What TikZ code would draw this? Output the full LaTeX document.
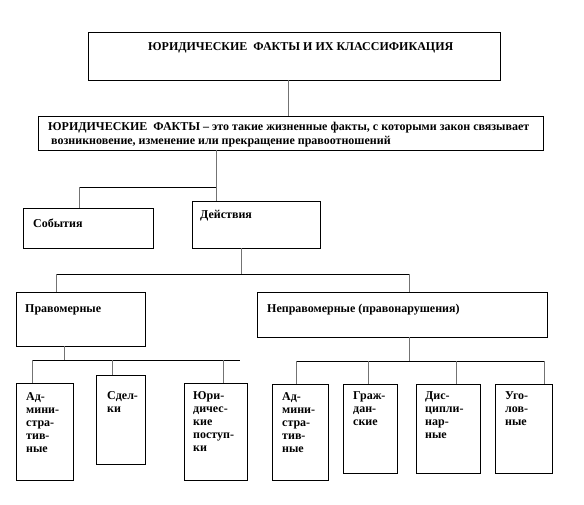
\documentclass[tikz,border=0pt]{standalone}
\usepackage{fontspec}
\setmainfont{Liberation Serif}
\newcommand\mybox[5]{\node[box, minimum width={#4-#2}, minimum height={#5-#3}] (#1) at ({(#2+#4)/2},{(#3+#5)/2}) {};}
\begin{document}
\begin{tikzpicture}[x=1pt,y=-1pt,
 box/.style={draw=black, line width=0.8pt, inner sep=0pt, outer sep=0pt},
 txt/.style={font=\fontsize{12}{13.5}\selectfont\bfseries, inner sep=0pt, anchor=base west},
 mtxt/.style={font=\fontsize{12}{13}\selectfont\bfseries, inner sep=0pt, anchor=north west, align=left},
 vline/.style={draw=black!55, line width=1pt},
 hline/.style={draw=black, line width=0.8pt}]
\useasboundingbox[fill=white] (0,0) rectangle (584,504);
% boxes
\mybox{title}{88}{32}{500}{80}
\mybox{def}{38}{116}{543}{150}
\mybox{sob}{23}{208}{153}{248}
\mybox{act}{192}{201}{320}{248}
\mybox{prav}{16}{292}{145}{346}
\mybox{neprav}{257}{292}{547}{337}
\mybox{aa}{16}{383}{73}{480}
\mybox{sd}{96}{375}{145}{464}
\mybox{yur}{184}{383}{247}{480}
\mybox{ab}{272}{384}{328}{480}
\mybox{gr}{343}{384}{397}{473}
\mybox{dis}{416}{384}{480}{473}
\mybox{ugo}{495}{384}{552}{473}
% texts
\node[txt] (ttitle) at (148,50) {ЮРИДИЧЕСКИЕ\ \ ФАКТЫ И ИХ КЛАССИФИКАЦИЯ};
\node[txt] (tdef1) at (48,130) {ЮРИДИЧЕСКИЕ\ \ ФАКТЫ – это такие\ жизненные факты, с которыми закон связывает};
\node[txt] (tdef2) at (51,144) {возникновение, изменение или прекращение правоотношений};
\node[txt] (tsob) at (33,227) {События};
\node[txt] (tact) at (200,218) {Действия};
\node[txt] (tprav) at (25,312) {Правомерные};
\node[txt] (tneprav) at (267,312) {Неправомерные (правонарушения)};
\node[mtxt] (taa) at (26,392) {Ад-\\мини-\\стра-\\тив-\\ные};
\node[mtxt] (tsd) at (107,391) {Сдел-\\ки};
\node[mtxt] (tyur) at (193,391) {Юри-\\дичес-\\кие\\поступ-\\ки};
\node[mtxt] (tab) at (282,392) {Ад-\\мини-\\стра-\\тив-\\ные};
\node[mtxt] (tgr) at (353,391) {Граж-\\дан-\\ские};
\node[mtxt] (tdis) at (425,391) {Дис-\\ципли-\\нар-\\ные};
\node[mtxt] (tugo) at (505,391) {Уго-\\лов-\\ные};
% connector columns and junctions
\coordinate (c1) at (288,0);
\coordinate (j2) at (216,187);
\coordinate (c2l) at (79,187);
\coordinate (j3) at (241,274);
\coordinate (c3l) at (56,274);
\coordinate (c3r) at (409,274);
\coordinate (j4) at (64,360);
\coordinate (c4a) at (32,360);
\coordinate (c4b) at (112,360);
\coordinate (c4c) at (223,360);
\coordinate (c4e) at (240,360);
\coordinate (j5) at (409,361);
\coordinate (c5a) at (296,361);
\coordinate (c5b) at (368,361);
\coordinate (c5c) at (456,361);
\coordinate (c5d) at (544,361);
% level 1
\draw[vline] (title.south -| c1) -- (def.north -| c1);
% level 2
\draw[vline] (def.south -| j2) -- (j2);
\draw[hline] (c2l) -- (j2);
\draw[vline] (c2l) -- (c2l |- sob.north);
\draw[vline] (j2) -- (j2 |- act.north);
% level 3
\draw[vline] (act.south -| j3) -- (j3);
\draw[hline] (c3l) -- (c3r);
\draw[vline] (c3l) -- (c3l |- prav.north);
\draw[vline] (c3r) -- (c3r |- neprav.north);
% level 4
\draw[vline] (prav.south -| j4) -- (j4);
\draw[hline] (c4a) -- (c4e);
\draw[vline] (c4a) -- (c4a |- aa.north);
\draw[vline] (c4b) -- (c4b |- sd.north);
\draw[vline] (c4c) -- (c4c |- yur.north);
% level 5
\draw[vline] (neprav.south -| j5) -- (j5);
\draw[hline] (c5a) -- (c5d);
\draw[vline] (c5a) -- (c5a |- ab.north);
\draw[vline] (c5b) -- (c5b |- gr.north);
\draw[vline] (c5c) -- (c5c |- dis.north);
\draw[vline] (c5d) -- (c5d |- ugo.north);
\end{tikzpicture}
\end{document}
